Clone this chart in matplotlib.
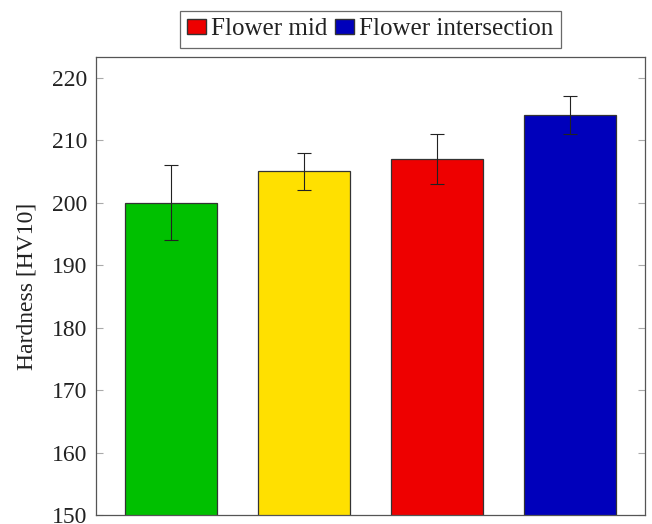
import matplotlib.pyplot as plt
from matplotlib.patches import Patch
import numpy as np

# Hardness data
groups = ['Base', 'Petal', 'Flower mid', 'Flower intersection']
hardness = [200, 205, 207, 214]
errors = [6, 3, 4, 3]
colors = ['#00c000', '#ffe000', '#ee0000', '#0000bb']
yticks = [150, 160, 170, 180, 190, 200, 210, 220]

plt.rcParams['font.family'] = ['Liberation Serif', 'DejaVu Serif']

fig = plt.figure(figsize=(6.52, 5.24), dpi=100)
ax = fig.add_axes([96 / 652, (524 - 515) / 524, 549 / 652, 458 / 524])

x = np.arange(len(hardness))
ax.bar(x, hardness, width=0.69, color=colors, edgecolor='#333333', linewidth=0.9,
       zorder=2)
ax.errorbar(x, hardness, yerr=errors, fmt='none', ecolor='#222222', elinewidth=0.8,
            capsize=5, capthick=0.8, zorder=3)

ax.set_xlim(-0.564, 3.564)
ax.set_ylim(150, 223.3)
ax.set_yticks(yticks)
ax.set_xticks([])
ax.tick_params(axis='y', direction='in', right=True, length=5, color='#aaaaaa',
               labelsize=17, labelcolor='#222222', pad=6)
for s in ax.spines.values():
    s.set_color('#555555')
    s.set_linewidth(0.9)
ax.set_ylabel('Hardness [HV10]', fontsize=17, color='#222222', labelpad=11)

handles = [Patch(facecolor=colors[2], edgecolor='#333333', label='Flower mid'),
           Patch(facecolor=colors[3], edgecolor='#333333', label='Flower intersection')]
leg = ax.legend(handles=handles, loc='lower center', bbox_to_anchor=(0.5, 1.02), ncol=2,
                fontsize=18, frameon=True, fancybox=False, handlelength=0.76,
                handleheight=0.55, handletextpad=0.2, columnspacing=0.3,
                borderpad=0.3, borderaxespad=0)
leg.get_frame().set_edgecolor('#444444')
leg.get_frame().set_linewidth(0.9)
for t in leg.get_texts():
    t.set_color('#222222')

plt.savefig('out.png')
